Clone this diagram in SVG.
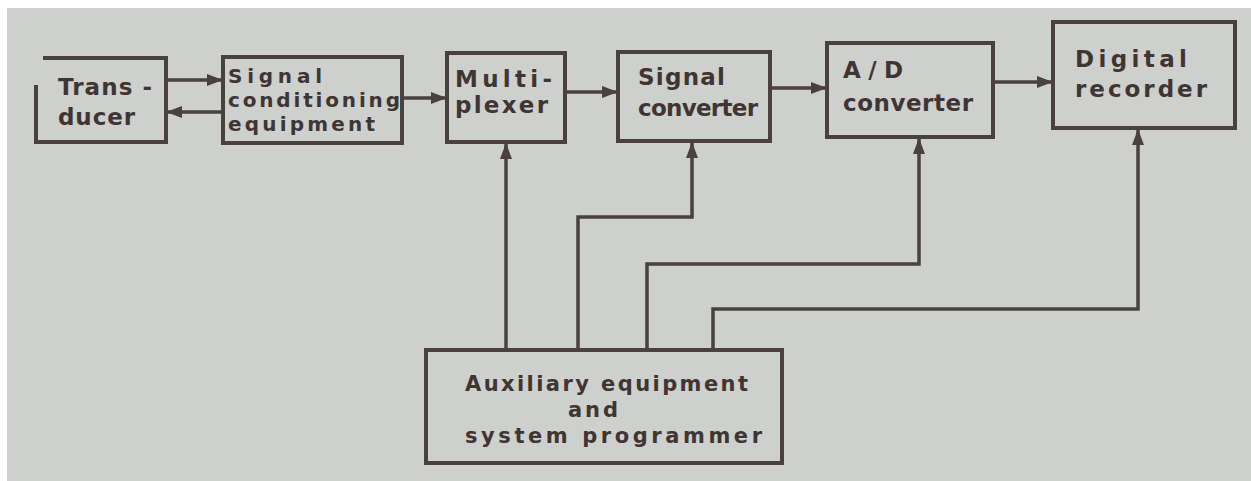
<svg xmlns="http://www.w3.org/2000/svg" width="1251" height="481" viewBox="0 0 1251 481">
<style>
.box{fill:none;stroke:#4a403e;stroke-width:4;stroke-linejoin:miter}
.ln{fill:none;stroke:#4a403e;stroke-width:3.5}
.t{font-family:"DejaVu Sans","Liberation Sans",sans-serif;font-weight:bold;font-size:23px;fill:#3f3533}
.s{font-size:20px}
.a{font-size:21px}
</style>
<defs>
<marker id="ah" markerWidth="16" markerHeight="12" refX="15" refY="6" orient="auto" markerUnits="userSpaceOnUse">
<path d="M0,0 L16,6 L0,12 Z" fill="#4a403e"/>
</marker>
</defs>
<rect x="0" y="0" width="1251" height="481" fill="#ffffff"/>
<rect x="7" y="8" width="1244" height="473" fill="#cdd0cc"/>

<g id="connectors">
<line class="ln" x1="166" y1="80" x2="222" y2="80" marker-end="url(#ah)"/>
<line class="ln" x1="223" y1="112" x2="167" y2="112" marker-end="url(#ah)"/>
<line class="ln" x1="402" y1="98" x2="446" y2="98" marker-end="url(#ah)"/>
<line class="ln" x1="565" y1="92" x2="617" y2="92" marker-end="url(#ah)"/>
<line class="ln" x1="770" y1="88" x2="826" y2="88" marker-end="url(#ah)"/>
<line class="ln" x1="993" y1="82" x2="1052" y2="82" marker-end="url(#ah)"/>
<path class="ln" d="M506,350 V144" marker-end="url(#ah)"/>
<path class="ln" d="M578,350 V217 H692 V143" marker-end="url(#ah)"/>
<path class="ln" d="M647,350 V264 H919 V139" marker-end="url(#ah)"/>
<path class="ln" d="M713,350 V309 H1138 V130" marker-end="url(#ah)"/>
</g>

<g id="transducer">
<path class="box" d="M43,58 H166 V142 H36 V85"/>
<text class="t" x="58" y="95" textLength="94" lengthAdjust="spacing">Trans -</text>
<text class="t" x="58" y="125" textLength="77" lengthAdjust="spacing">ducer</text>
</g>

<g id="signal-conditioning">
<rect class="box" x="223" y="57" width="179" height="86"/>
<text class="t s" x="228" y="83" textLength="94" lengthAdjust="spacing">Signal</text>
<text class="t s" x="228" y="107" textLength="172" lengthAdjust="spacing">conditioning</text>
<text class="t s" x="228" y="131" textLength="147" lengthAdjust="spacing">equipment</text>
</g>

<g id="multiplexer">
<rect class="box" x="447" y="53" width="118" height="89"/>
<text class="t" x="455" y="87" textLength="97" lengthAdjust="spacing">Multi-</text>
<text class="t" x="455" y="113" textLength="93" lengthAdjust="spacing">plexer</text>
</g>

<g id="signal-converter">
<rect class="box" x="618" y="52" width="152" height="89"/>
<text class="t" x="638" y="85" textLength="87" lengthAdjust="spacing">Signal</text>
<text class="t" x="638" y="116" textLength="120" lengthAdjust="spacing">converter</text>
</g>

<g id="ad-converter">
<rect class="box" x="827" y="43" width="166" height="94"/>
<text class="t" x="843" y="78" textLength="60" lengthAdjust="spacing">A/D</text>
<text class="t" x="843" y="111" textLength="130" lengthAdjust="spacing">converter</text>
</g>

<g id="digital-recorder">
<rect class="box" x="1053" y="22" width="182" height="106"/>
<text class="t" x="1075" y="67" textLength="112" lengthAdjust="spacing">Digital</text>
<text class="t" x="1075" y="97" textLength="132" lengthAdjust="spacing">recorder</text>
</g>

<g id="auxiliary">
<rect class="box" x="426" y="350" width="356" height="113"/>
<text class="t a" x="465" y="391" textLength="283" lengthAdjust="spacing">Auxiliary equipment</text>
<text class="t a" x="568" y="417" textLength="50" lengthAdjust="spacing">and</text>
<text class="t a" x="465" y="443" textLength="297" lengthAdjust="spacing">system programmer</text>
</g>
</svg>
